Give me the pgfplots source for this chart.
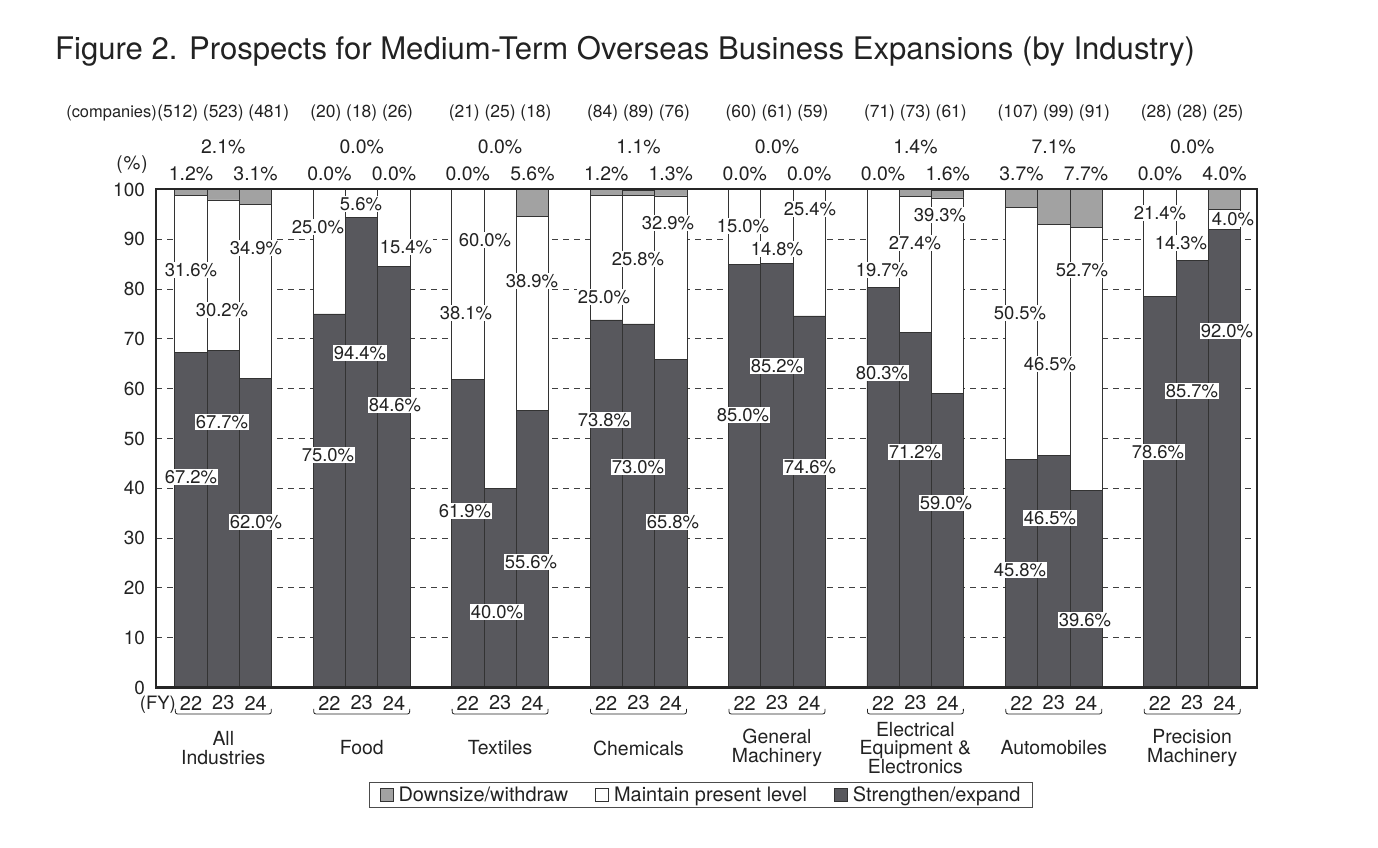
\documentclass[border=0pt]{standalone}
\usepackage{pgfplots}
\pgfplotsset{compat=1.18}
\usepackage{fontspec}
\setmainfont{TeX Gyre Heros}
\definecolor{dark}{HTML}{58585D}
\definecolor{lgray}{HTML}{A2A2A2}
\definecolor{edge}{HTML}{333333}
\definecolor{txt}{HTML}{222222}
\newcommand{\lab}[3]{\node[fill=white,inner sep=1bp,text=txt,font=\fontsize{18.5}{19}\selectfont] at (#1,#2) {#3};}
\newcommand{\toplab}[3]{\node[text=txt,inner sep=0pt,font=\fontsize{19.5}{20}\selectfont] at (#1,#2) {#3};}
\newcommand{\cnt}[2]{\node[text=txt,inner sep=0pt,font=\fontsize{17.5}{18}\selectfont] at (#1,113) {#2};}
\pgfplotsset{sqlegend/.style={legend image code/.code={\draw[##1,line width=0.8bp] (0bp,-6.5bp) rectangle (13bp,6.5bp); \path (16bp,0bp);}}}
\begin{document}
\begin{tikzpicture}
\useasboundingbox (0,0) rectangle (1378bp,848bp);
\begin{axis}[
  at={(156bp,160.5bp)}, anchor=south west,
  scale only axis, width=1101bp, height=498bp,
  xmin=156, xmax=1257, ymin=0, ymax=100,
  ybar stacked, bar width=32.3,
  ytick={0,10,...,100}, xtick=\empty,
  ymajorgrids, grid style={dash pattern=on 6bp off 5bp, black!75, line width=0.8bp},
  major tick length=0pt,
  axis line style={line width=2bp, black!85},
  /pgf/number format/assume math mode=true,
  yticklabel style={font=\fontsize{19}{19}\selectfont, text=txt, inner sep=0pt, xshift=-11bp},
  reverse legend,
  legend columns=3,
  legend style={at={(0.495,-0.216)}, anchor=center, draw=black!70, line width=0.8bp,
    font=\fontsize{20}{20}\selectfont, text=txt, inner xsep=10bp, inner ysep=2bp,
    /tikz/every even column/.append style={column sep=25bp}},
  legend cell align=left,
]
\addplot[fill=dark, draw=edge, line width=0.9bp, sqlegend] coordinates {
(191.0,67.2) (223.3,67.7) (255.6,62.0)
(329.4,75.0) (361.7,94.4) (394.0,84.6)
(467.8,61.9) (500.1,40.0) (532.4,55.6)
(606.2,73.8) (638.5,73.0) (670.8,65.8)
(744.7,85.0) (777.0,85.2) (809.3,74.6)
(883.1,80.3) (915.4,71.2) (947.7,59.0)
(1021.5,45.8) (1053.8,46.5) (1086.1,39.6)
(1159.9,78.6) (1192.2,85.7) (1224.5,92.0)};
\addlegendentry{Strengthen/expand}
\addplot[fill=white, draw=edge, line width=0.9bp, sqlegend] coordinates {
(191.0,31.6) (223.3,30.2) (255.6,34.9)
(329.4,25.0) (361.7,5.6) (394.0,15.4)
(467.8,38.1) (500.1,60.0) (532.4,38.9)
(606.2,25.0) (638.5,25.8) (670.8,32.9)
(744.7,15.0) (777.0,14.8) (809.3,25.4)
(883.1,19.7) (915.4,27.4) (947.7,39.3)
(1021.5,50.5) (1053.8,46.5) (1086.1,52.7)
(1159.9,21.4) (1192.2,14.3) (1224.5,4.0)};
\addlegendentry{Maintain present level}
\addplot[fill=lgray, draw=edge, line width=0.9bp, sqlegend] coordinates {
(191.0,1.2) (223.3,2.1) (255.6,3.1)
(329.4,0.0) (361.7,0.0) (394.0,0.0)
(467.8,0.0) (500.1,0.0) (532.4,5.6)
(606.2,1.2) (638.5,1.1) (670.8,1.3)
(744.7,0.0) (777.0,0.0) (809.3,0.0)
(883.1,0.0) (915.4,1.4) (947.7,1.6)
(1021.5,3.7) (1053.8,7.1) (1086.1,7.7)
(1159.9,0.0) (1192.2,0.0) (1224.5,4.0)};
\addlegendentry{Downsize/withdraw}
\end{axis}
\begin{scope}[x=1bp, y=-1bp, shift={(0bp,848bp)}]
% frame redraw
\draw[line width=2bp, black!85] (156,189.5) rectangle (1257,687.5);
% title
\node[anchor=base west, inner sep=0pt, text=txt, font=\fontsize{31.2}{32}\selectfont] at (55,60) {Figure 2. Prospects for Medium-Term Overseas Business Expansions (by Industry)};
% companies
\node[anchor=east, inner sep=0pt, text=txt, font=\fontsize{16.5}{17}\selectfont] at (157,113) {(companies)};
\cnt{223.3}{(512) (523) (481)}
\cnt{361.7}{(20) (18) (26)}
\cnt{500.1}{(21) (25) (18)}
\cnt{638.5}{(84) (89) (76)}
\cnt{777.0}{(60) (61) (59)}
\cnt{915.4}{(71) (73) (61)}
\cnt{1053.8}{(107) (99) (91)}
\cnt{1192.2}{(28) (28) (25)}
% FY23 downsize
\toplab{223.3}{147}{2.1\%}
\toplab{361.7}{147}{0.0\%}
\toplab{500.1}{147}{0.0\%}
\toplab{638.5}{147}{1.1\%}
\toplab{777.0}{147}{0.0\%}
\toplab{915.4}{147}{1.4\%}
\toplab{1053.8}{147}{7.1\%}
\toplab{1192.2}{147}{0.0\%}
% FY22 / FY24 downsize
\toplab{191.0}{174}{1.2\%}\toplab{255.6}{174}{3.1\%}
\toplab{329.4}{174}{0.0\%}\toplab{394.0}{174}{0.0\%}
\toplab{467.8}{174}{0.0\%}\toplab{532.4}{174}{5.6\%}
\toplab{606.2}{174}{1.2\%}\toplab{670.8}{174}{1.3\%}
\toplab{744.7}{174}{0.0\%}\toplab{809.3}{174}{0.0\%}
\toplab{883.1}{174}{0.0\%}\toplab{947.7}{174}{1.6\%}
\toplab{1021.5}{174}{3.7\%}\toplab{1086.1}{174}{7.7\%}
\toplab{1159.9}{174}{0.0\%}\toplab{1224.5}{174}{4.0\%}
\node[anchor=east, inner sep=0pt, text=txt, font=\fontsize{19}{19}\selectfont] at (148,165) {(\kern1bp\%\kern1bp)};
% data labels
\lab{191}{270}{31.6\%}\lab{222}{310}{30.2\%}\lab{256}{248}{34.9\%}
\lab{191}{477}{67.2\%}\lab{222}{422}{67.7\%}\lab{256}{522}{62.0\%}
\lab{318}{227}{25.0\%}\lab{361}{204}{5.6\%}\lab{406}{247}{15.4\%}
\lab{328}{455}{75.0\%}\lab{360}{353}{94.4\%}\lab{395}{405}{84.6\%}
\lab{466}{313}{38.1\%}\lab{485}{240}{60.0\%}\lab{532}{281}{38.9\%}
\lab{465}{511}{61.9\%}\lab{497}{612}{40.0\%}\lab{531}{562}{55.6\%}
\lab{604}{297}{25.0\%}\lab{638}{259}{25.8\%}\lab{668}{223}{32.9\%}
\lab{604}{420}{73.8\%}\lab{638}{467}{73.0\%}\lab{673}{522}{65.8\%}
\lab{743}{226}{15.0\%}\lab{777}{249}{14.8\%}\lab{810}{209}{25.4\%}
\lab{743}{415}{85.0\%}\lab{777}{366}{85.2\%}\lab{810}{467}{74.6\%}
\lab{882}{270}{19.7\%}\lab{915}{243}{27.4\%}\lab{940}{215}{39.3\%}
\lab{882}{373}{80.3\%}\lab{915}{452}{71.2\%}\lab{946}{503}{59.0\%}
\lab{1020}{313}{50.5\%}\lab{1050}{364}{46.5\%}\lab{1082}{270}{52.7\%}
\lab{1020}{570}{45.8\%}\lab{1050}{518}{46.5\%}\lab{1085}{620}{39.6\%}
\lab{1160}{213}{21.4\%}\lab{1181}{243}{14.3\%}\lab{1233}{219}{4.0\%}
\lab{1158}{452}{78.6\%}\lab{1192}{391}{85.7\%}\lab{1227}{331}{92.0\%}
% FY labels and braces
\node[anchor=east, inner sep=0pt, text=txt, font=\fontsize{18.5}{18.5}\selectfont] at (176,705) {(FY)};
\foreach \c in {223.3,361.7,500.1,638.5,777.0,915.4,1053.8,1192.2} {
  \node[inner sep=0pt, text=txt, font=\fontsize{20}{20}\selectfont] at ({\c-32.3},703) {22};
  \node[inner sep=0pt, text=txt, font=\fontsize{20}{20}\selectfont] at ({\c},703) {23};
  \node[inner sep=0pt, text=txt, font=\fontsize{20}{20}\selectfont] at ({\c+32.3},703) {24};
  \draw[line width=0.8bp, txt] ({\c-48},709) .. controls ({\c-48},714) .. ({\c-43},714) -- ({\c+43},714) .. controls ({\c+48},714) .. ({\c+48},709);
}
% categories
\tikzset{cat/.style={align=center, inner sep=0pt, text=txt, font=\fontsize{19.5}{18.8}\selectfont}}
\node[cat] at (223.3,748) {All\\Industries};
\node[cat] at (361.7,748) {Food};
\node[cat] at (500.1,748) {Textiles};
\node[cat] at (638.5,748) {Chemicals};
\node[cat] at (777.0,748) {General\\Machinery};
\node[cat] at (915.4,748) {Electrical\\Equipment \&\\Electronics};
\node[cat] at (1053.8,748) {Automobiles};
\node[cat] at (1192.2,748) {Precision\\Machinery};
\end{scope}
\end{tikzpicture}
\end{document}
